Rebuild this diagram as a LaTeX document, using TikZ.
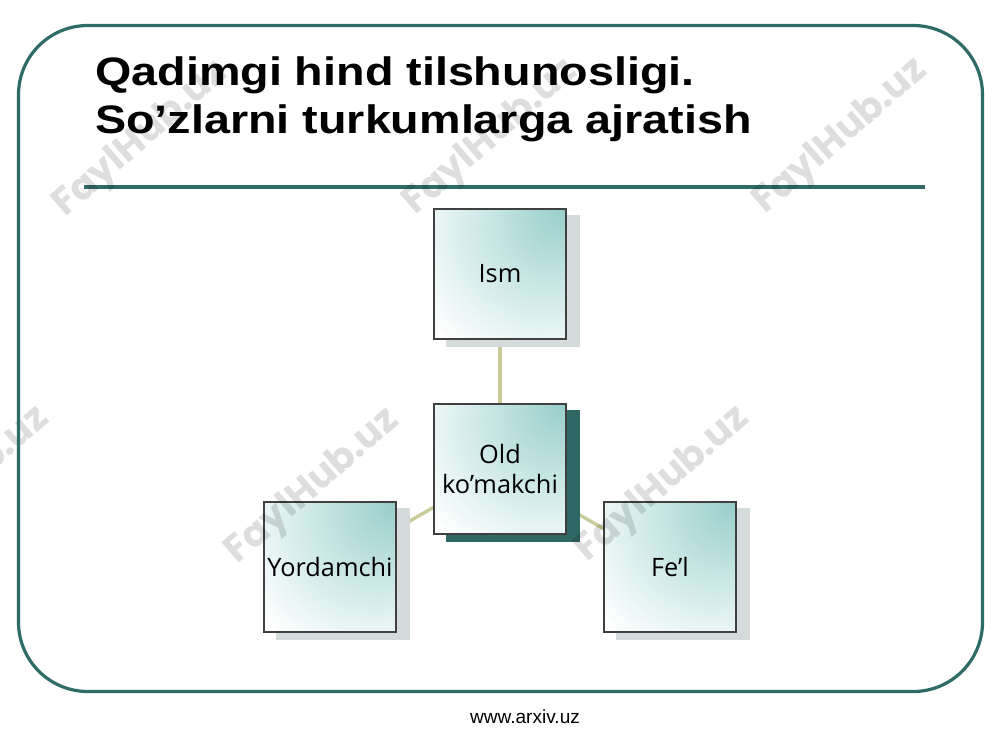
\documentclass[tikz,border=0pt]{standalone}
\usepackage{fontspec}
\setmainfont{Open Sans}
\newfontfamily\titlefont{Liberation Sans}
\newfontfamily\footfont{Liberation Sans}
\newfontfamily\wmfont{Poppins}
\usetikzlibrary{backgrounds,calc}
\definecolor{framec}{HTML}{2F6B67}
\definecolor{linkc}{HTML}{C8CC98}
\definecolor{tealc}{HTML}{98CDCA}
\definecolor{tealm}{HTML}{C9E7E5}
\definecolor{shadowc}{HTML}{D5DBDB}
\definecolor{darkshadowc}{HTML}{2E6764}
\pgfdeclareradialshading{boxshade}{\pgfpoint{25bp}{25bp}}{%
  color(0bp)=(tealc); color(24bp)=(tealm); color(50bp)=(white); color(100bp)=(white)}
\newcommand{\ttl}[1]{\scalebox{1.175}[1]{#1}}
\tikzset{
  catbox/.style={rectangle, draw=black!75, line width=0.8pt, shading=boxshade,
    minimum width=99pt, minimum height=97.5pt, inner sep=0pt, align=center,
    font=\fontsize{19}{22.5}\selectfont},
  link/.style={draw=linkc, line width=2.5pt},
  lightshadow/.style={fill=shadowc},
  darkshadow/.style={fill=darkshadowc},
  watermark/.style={font=\wmfont\bfseries\fontsize{28.5}{28.5}\selectfont, text=black, text opacity=0.13, rotate=41, inner sep=0pt},
  titletext/.style={font=\titlefont\bfseries\fontsize{29.8}{36}\selectfont, anchor=base west, inner sep=0pt}
}
\begin{document}
\begin{tikzpicture}[x=0.75pt, y=-0.75pt]
\useasboundingbox (0,0) rectangle (1000,750);
% boxes
\node[catbox] (ism) at (500,274) {Ism};
\node[catbox] (old) at (500,469) {Old\\ko’makchi};
\node[catbox] (yor) at (330,567) {Yordamchi};
\node[catbox] (fel) at (670,567) {Fe’l};
\begin{scope}[on background layer]
  \fill[white] (0,0) rectangle (1000,750);
  \draw[link] (ism.center) -- (old.center);
  \draw[link] (old.center) -- (yor.center);
  \draw[link] (old.center) -- (fel.center);
  \fill[lightshadow] ($(ism.south west)+(13,7)$) rectangle ($(ism.north east)+(13,7)$);
  \fill[lightshadow] ($(yor.south west)+(13,7)$) rectangle ($(yor.north east)+(13,7)$);
  \fill[lightshadow] ($(fel.south west)+(13,7)$) rectangle ($(fel.north east)+(13,7)$);
  \fill[darkshadow] ($(old.south west)+(13,7)$) rectangle ($(old.north east)+(13,7)$);
\end{scope}
% title
\node[titletext] (t1) at (95,85) {\ttl{Qadimgi hind tilshunosligi.}};
\node[titletext] (t2) at (95,133) {\ttl{So’zlarni turkumlarga ajratish}};
\coordinate (sepL) at (84,186.5);
\coordinate (sepR) at (925,186.5);
\draw[framec, line width=3pt] (sepL) -- (sepR);
% watermarks
\node[watermark] (w1) at (141,140) {FaylHub.uz};
\node[watermark] (w2) at (491,138) {FaylHub.uz};
\node[watermark] (w3) at (841,137) {FaylHub.uz};
\node[watermark] (w4) at (-37,485) {FaylHub.uz};
\node[watermark] (w5) at (313,487) {FaylHub.uz};
\node[watermark] (w6) at (663,485) {FaylHub.uz};
% frame
\draw[framec, line width=2.4pt, rounded corners=52pt] (18.5,25.5) rectangle (982.5,691.5);
% footer
\node[font=\footfont\fontsize{14.3}{16}\selectfont, anchor=base, inner sep=0pt] (foot) at (525,723) {www.arxiv.uz};
\end{tikzpicture}
\end{document}
